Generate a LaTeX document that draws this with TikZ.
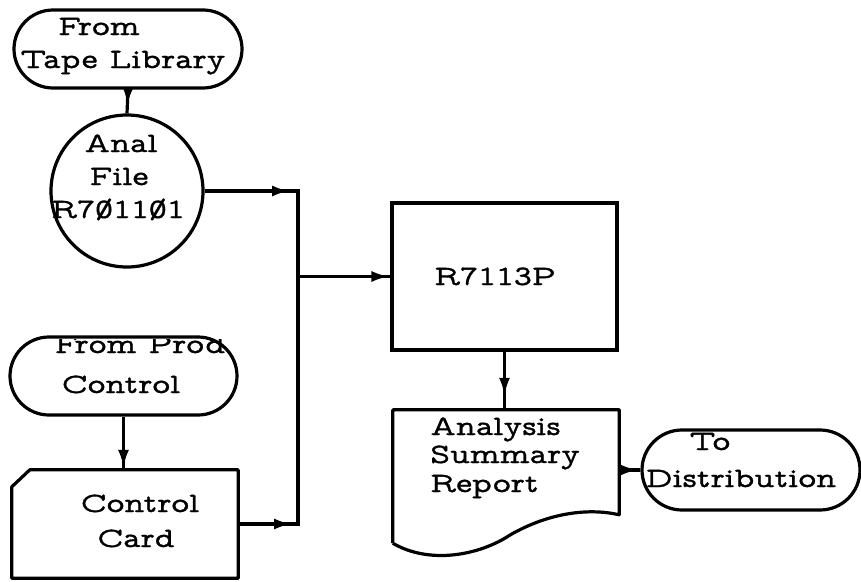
\documentclass[tikz,border=0pt]{standalone}
\usepackage{fontspec}
\newfontfamily\tw[FakeBold=1.1,FakeStretch=1.22]{lmmonoprop10-regular.otf}
\newcommand\slz{\ooalign{0\cr\hidewidth/\hidewidth\cr}}
\usetikzlibrary{shapes.misc,shapes.geometric,decorations.markings,calc,arrows.meta}
\begin{document}
\begin{tikzpicture}[x=1pt,y=-1pt,
  every node/.style={font=\tw\fontsize{28}{31}\selectfont},
  shp/.style={draw,line width=3.2pt},
  term/.style={shp,rounded rectangle,inner sep=0pt},
  ghost/.style={rectangle,inner sep=0pt},
  txt/.style={anchor=base,inner sep=0pt},
  flow/.style={line width=3.2pt,postaction={decorate},
    decoration={markings,mark=at position #1 with {\arrow{Latex[length=18pt,width=11pt]}}}},
  plain/.style={line width=3.2pt}]
\useasboundingbox (0,0) rectangle (861,581);

% shapes
\node[term,minimum width=228pt,minimum height=78pt] (tape) at (128,49) {};
\node[shp,circle,minimum size=152pt,inner sep=0pt] (file) at (127,191) {};
\node[term,minimum width=227pt,minimum height=78pt] (prodc) at (123.5,376) {};
\node[ghost,minimum width=226pt,minimum height=108pt] (card) at (125,524) {};
\draw[shp,line join=round] (card.south west) -- ($(card.north west)+(0,17)$) -- ($(card.north west)+(18,0)$) -- (card.north east) -- (card.south east) -- cycle;
\node[shp,rectangle,minimum width=225pt,minimum height=147pt,inner sep=0pt] (prog) at (504.5,276.5) {};
\node[ghost,minimum width=226pt,minimum height=133pt] (doc) at (506,476.5) {};
\draw[shp,line join=round] (doc.south west) -- (doc.north west) -- (doc.north east) -- ($(doc.north east)+(0,105)$)
  .. controls (590,508) and (550,512) .. (510,535) .. controls (480,555) and (430,565) .. (doc.south west);
\node[term,minimum width=218pt,minimum height=80pt] (dist) at (751,470) {};

% texts
\node[txt] (t1a) at (99,35) {From};
\node[txt] (t1b) at (123,68) {Tape Library};
\node[txt] (t2a) at (121,152) {Anal};
\node[txt] (t2b) at (119,185) {File};
\node[txt] (t2c) at (118,218) {R7\slz11\slz1};
\begin{scope}
\clip (0,339) rectangle (861,581);
\node[txt] (t3a) at (140,353) {From Prod};
\end{scope}
\node[txt] (t3b) at (121,393) {Control};
\node[txt] (t4a) at (140,512) {Control};
\node[txt] (t4b) at (136,547) {Card};
\node[txt] (t5) at (495,285) {R7113P};
\node[txt,anchor=base west] (t6a) at (430,435) {Analysis};
\node[txt,anchor=base west] (t6b) at (430,463) {Summary};
\node[txt,anchor=base west] (t6c) at (430,492) {Report};
\node[txt] (t7a) at (710,450) {To};
\node[txt] (t7b) at (741,487) {Distribution};

% connectors
\coordinate (jtop) at (298,191);
\coordinate (jbot) at (298,524);
\draw[flow=-8pt] (tape.south) -- (file.north);
\draw[flow=-8pt] (file.east) -- (jtop);
\draw[flow=-2pt] (prodc.south) -- (prodc.south |- card.north);
\draw[flow=-6pt] (card.east) -- (jbot);
\draw[plain,line cap=rect] (jtop) -- (jbot);
\draw[flow=-1pt] (jtop |- prog.west) -- (prog.west);
\draw[flow=-14pt] (prog.south) -- (prog.south |- doc.north);
\draw[flow=-2pt] (dist.west -| doc.east) -- (dist.west);
\end{tikzpicture}
\end{document}
